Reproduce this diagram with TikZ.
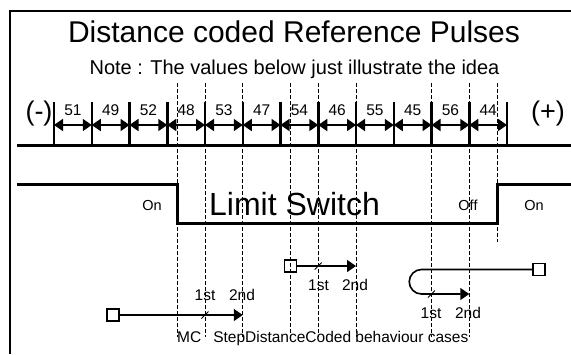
\documentclass[tikz,border=0pt]{standalone}
\usepackage{fontspec}
\setmainfont{Liberation Sans}
\usetikzlibrary{arrows.meta}

\tikzset{
  tick/.style={line width=2.5pt},
  pulse/.style={{Triangle[length=9pt,width=12pt]}-{Triangle[length=9pt,width=12pt]}, line width=1.8pt},
  marker/.style={line width=1pt, dash pattern=on 4pt off 2pt},
  refbox/.style={draw, line width=1.8pt, minimum size=12pt, inner sep=0pt},
  move/.style={-{Triangle[length=9pt,width=12pt]}, line width=1.6pt},
  slash/.style={line width=1pt}
}

\begin{document}
\begin{tikzpicture}[x=1pt, y=-1pt, every node/.style={inner sep=0pt, font=\fontsize{15.5}{18}\selectfont}]
    \useasboundingbox (0,0) rectangle (571,354);

    % Frame (top and left only)
    \draw[line width=2pt] (10,354) -- (10,11) -- (571,11);

    % Titles
    \node[anchor=base, font=\fontsize{30}{36}\selectfont] (title) at (294,42) {Distance coded Reference Pulses};
    \node[anchor=base, font=\fontsize{20}{24}\selectfont] (note) at (294.5,74) {Note : The values below just illustrate the idea};

    % Scale line
    \draw[line width=3pt] (17,145) -- (571,145);

    % Ticks
    \foreach \i in {0,...,12} {
        \draw[tick] (54+37.75*\i,102) -- (54+37.75*\i,145);
        \coordinate (t\i) at (54+37.75*\i,125);
    }

    % Distances between the reference marks
    \foreach \i/\val in {0/51,1/49,2/52,3/48,4/53,5/47,6/54,7/46,8/55,9/45,10/56,11/44} {
        \pgfmathtruncatemacro\j{\i+1}
        \draw[pulse] (t\i) -- (t\j);
        \node[anchor=base] (d\i) at (54+37.75*\i+18.9,115) {\val};
    }

    % Ends of the axis
    \node[anchor=base, font=\fontsize{27}{30}\selectfont] (neg) at (39,120) {(-)};
    \node[anchor=base, font=\fontsize{27}{30}\selectfont] (pos) at (548,120) {(+)};

    % Dashed markers
    \foreach \x in {177,205,242.75,290,318.25,356,431.5,469.25}
        \draw[marker] (\x,83) -- (\x,337);
    \draw[marker] (497,83) -- (497,242);

    % Limit switch signal
    \draw[line width=3pt] (17,184) -- (177,184) -- (177,223) -- (497,223) -- (497,184) -- (571,184);
    \node[anchor=base, font=\fontsize{14.5}{17}\selectfont] (onL) at (152,210) {On};
    \node[anchor=base, font=\fontsize{32}{38}\selectfont] (ls) at (294.5,215) {Limit Switch};
    \node[anchor=base, font=\fontsize{14.5}{17}\selectfont] (off) at (468,210) {Off};
    \node[anchor=base, font=\fontsize{14.5}{17}\selectfont] (onR) at (534,210) {On};

    % Case 1
    \node[refbox] (sq1) at (113,315) {};
    \coordinate (e1) at (242.75,315);
    \draw[move] (sq1) -- (e1);
    \draw[slash] (201.5,318.5) -- (208.5,311.5);
    \node[anchor=base] (a1) at (205,300) {1st};
    \node[anchor=base] (b1) at (242,300) {2nd};

    % Case 2
    \node[refbox] (sq2) at (290.5,266) {};
    \coordinate (e2) at (356,266);
    \draw[move] (sq2) -- (e2);
    \draw[slash] (314.75,269.5) -- (321.75,262.5);
    \node[anchor=base] (a2) at (318.5,290) {1st};
    \node[anchor=base] (b2) at (355,290) {2nd};

    % Case 3
    \node[refbox] (sq3) at (539,269.5) {};
    \coordinate (e3) at (469.25,294);
    \draw[move] (sq3) -- (421.5,269.5) arc[start angle=270, end angle=90, radius=12.25] -- (e3);
    \draw[slash] (428,297.5) -- (435,290.5);
    \node[anchor=base] (a3) at (431,318) {1st};
    \node[anchor=base] (b3) at (468,318) {2nd};

    % Caption
    \node[anchor=base west] (cases) at (177,342) {MC\hspace{12pt}StepDistanceCoded behaviour cases};

\end{tikzpicture}
\end{document}
